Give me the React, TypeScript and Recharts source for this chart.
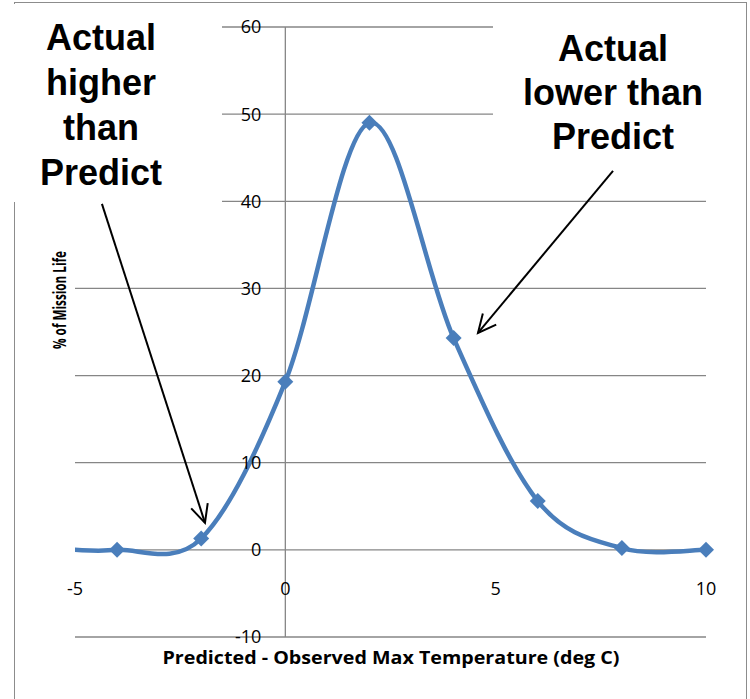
import React from "react";
import {
  LineChart,
  Line,
  XAxis,
  YAxis,
  CartesianGrid,
  ReferenceLine,
  ReferenceDot,
} from "recharts";

// deg C (predicted - observed max temperature)
const tempDiff = [-5, -4, -2, 0, 2, 4, 6, 8, 10];
// % of mission life
const missionLife = [0, 0, 1.3, 19.3, 49, 24.3, 5.6, 0.2, 0];

const xTicks = [-5, 0, 5, 10];
const yTicks = [-10, 0, 10, 20, 30, 40, 50, 60];

// annotation arrows, in data units: [x1, y1, x2, y2]
const higherArrow = [-4.36, 39.7, -1.91, 3.1];
const lowerArrow = [7.79, 43.5, 4.58, 24.9];

const data = tempDiff.map((x, i) => ({ x, pct: missionLife[i] }));

const BLUE = "#4A7EBB";
const GRID = "#868686";
const FONT = "'Open Sans', sans-serif";

// Excel-like smoothed line (Catmull-Rom as cubic beziers)
function excelSmooth(context: any) {
  let pts: number[][] = [];
  return {
    areaStart() {},
    areaEnd() {},
    lineStart() {
      pts = [];
    },
    point(x: number, y: number) {
      pts.push([+x, +y]);
    },
    lineEnd() {
      const n = pts.length;
      if (!n) return;
      context.moveTo(pts[0][0], pts[0][1]);
      for (let i = 0; i < n - 1; i++) {
        const p0 = pts[i - 1] || pts[i];
        const p1 = pts[i];
        const p2 = pts[i + 1];
        const p3 = pts[i + 2] || p2;
        context.bezierCurveTo(
          p1[0] + (p2[0] - p0[0]) / 6,
          p1[1] + (p2[1] - p0[1]) / 6,
          p2[0] - (p3[0] - p1[0]) / 6,
          p2[1] - (p3[1] - p1[1]) / 6,
          p2[0],
          p2[1]
        );
      }
    },
  };
}

const Diamond = (props: any) => {
  const { cx, cy, index } = props;
  // first point is only the line's run-in at the axis edge, no marker
  if (index === 0 || cx == null) return <g key={index} />;
  const s = 8;
  return (
    <path
      key={index}
      d={`M${cx},${cy - s}L${cx + s},${cy}L${cx},${cy + s}L${cx - s},${cy}Z`}
      fill={BLUE}
    />
  );
};

const Arrow = (props: any) => {
  const { x1, y1, x2, y2 } = props;
  const ang = Math.atan2(y2 - y1, x2 - x1);
  const len = 20;
  const spread = 0.45;
  const ax = x2 - len * Math.cos(ang - spread);
  const ay = y2 - len * Math.sin(ang - spread);
  const bx = x2 - len * Math.cos(ang + spread);
  const by = y2 - len * Math.sin(ang + spread);
  return (
    <g>
      <line x1={x1} y1={y1} x2={x2} y2={y2} stroke="#000" strokeWidth={2} />
      <path
        d={`M${ax},${ay}L${x2},${y2}L${bx},${by}`}
        fill="none"
        stroke="#000"
        strokeWidth={2}
      />
    </g>
  );
};

const noteStyle: React.CSSProperties = {
  position: "absolute",
  fontFamily: "'Liberation Sans', Arial, sans-serif",
  fontWeight: "bold",
  fontSize: 36,
  textAlign: "center",
  color: "#000",
  whiteSpace: "nowrap",
};

export default function App() {
  return (
    <div
      style={{
        position: "absolute",
        left: 0,
        top: 0,
        width: 750,
        height: 699,
        overflow: "hidden",
        background: "#fff",
        fontFamily: FONT,
      }}
    >
      <div
        style={{
          position: "absolute",
          left: 14,
          top: 2,
          width: 731,
          height: 800,
          border: "1px solid #8c8c8c",
        }}
      />
      <div style={{ position: "absolute", left: 0, top: 0 }}>
        <LineChart
          width={750}
          height={699}
          data={data}
          margin={{ top: 27, right: 44, bottom: 62, left: 75 }}
        >
          <CartesianGrid
            vertical={false}
            horizontalValues={yTicks}
            stroke={GRID}
            strokeWidth={1.3}
          />
          <XAxis
            dataKey="x"
            type="number"
            domain={[-5, 10]}
            ticks={xTicks}
            hide
          />
          <YAxis type="number" domain={[-10, 60]} ticks={yTicks} hide />
          <ReferenceLine x={0} stroke={GRID} strokeWidth={1.3} />
          {yTicks.map((v) => (
            <ReferenceDot
              key={"y" + v}
              x={0}
              y={v}
              r={0}
              stroke="none"
              label={{
                value: v,
                position: "left",
                offset: 24,
                fill: "#000",
                fontSize: 18,
                fontFamily: FONT,
              }}
            />
          ))}
          {xTicks.map((v) => (
            <ReferenceDot
              key={"x" + v}
              x={v}
              y={0}
              r={0}
              stroke="none"
              label={{
                value: v,
                position: "bottom",
                offset: 32,
                fill: "#000",
                fontSize: 18,
                fontFamily: FONT,
              }}
            />
          ))}
          <Line
            dataKey="pct"
            type={excelSmooth as any}
            stroke={BLUE}
            strokeWidth={4.5}
            dot={Diamond}
            activeDot={false}
            isAnimationActive={false}
          />
          <ReferenceLine
            segment={[
              { x: higherArrow[0], y: higherArrow[1] },
              { x: higherArrow[2], y: higherArrow[3] },
            ]}
            ifOverflow="visible"
            shape={Arrow}
          />
          <ReferenceLine
            segment={[
              { x: lowerArrow[0], y: lowerArrow[1] },
              { x: lowerArrow[2], y: lowerArrow[3] },
            ]}
            ifOverflow="visible"
            shape={Arrow}
          />
        </LineChart>
      </div>
      {/* white text boxes sit over the gridlines, like the original callouts */}
      <div
        style={{
          position: "absolute",
          left: 10,
          top: 4,
          width: 212,
          height: 198,
          background: "#fff",
        }}
      />
      <div
        style={{
          position: "absolute",
          left: 493,
          top: 4,
          width: 240,
          height: 160,
          background: "#fff",
        }}
      />
      <svg
        width={750}
        height={699}
        style={{ position: "absolute", left: 0, top: 0, pointerEvents: "none" }}
      >
        <text
          x={391}
          y={664}
          textAnchor="middle"
          fontFamily={FONT}
          fontWeight="bold"
          fontSize={17}
          textLength={457}
          lengthAdjust="spacingAndGlyphs"
        >
          Predicted - Observed Max Temperature (deg C)
        </text>
        <text
          transform="translate(66,300) rotate(-90)"
          textAnchor="middle"
          fontFamily={FONT}
          fontWeight="bold"
          fontSize={18}
          textLength={98}
          lengthAdjust="spacingAndGlyphs"
        >
          % of Mission Life
        </text>
      </svg>
      <div style={{ ...noteStyle, left: 0, width: 202, top: 15, lineHeight: "45px" }}>
        Actual
        <br />
        higher
        <br />
        than
        <br />
        Predict
      </div>
      <div style={{ ...noteStyle, left: 493, width: 240, top: 27, lineHeight: "44px" }}>
        Actual
        <br />
        lower than
        <br />
        Predict
      </div>
    </div>
  );
}
